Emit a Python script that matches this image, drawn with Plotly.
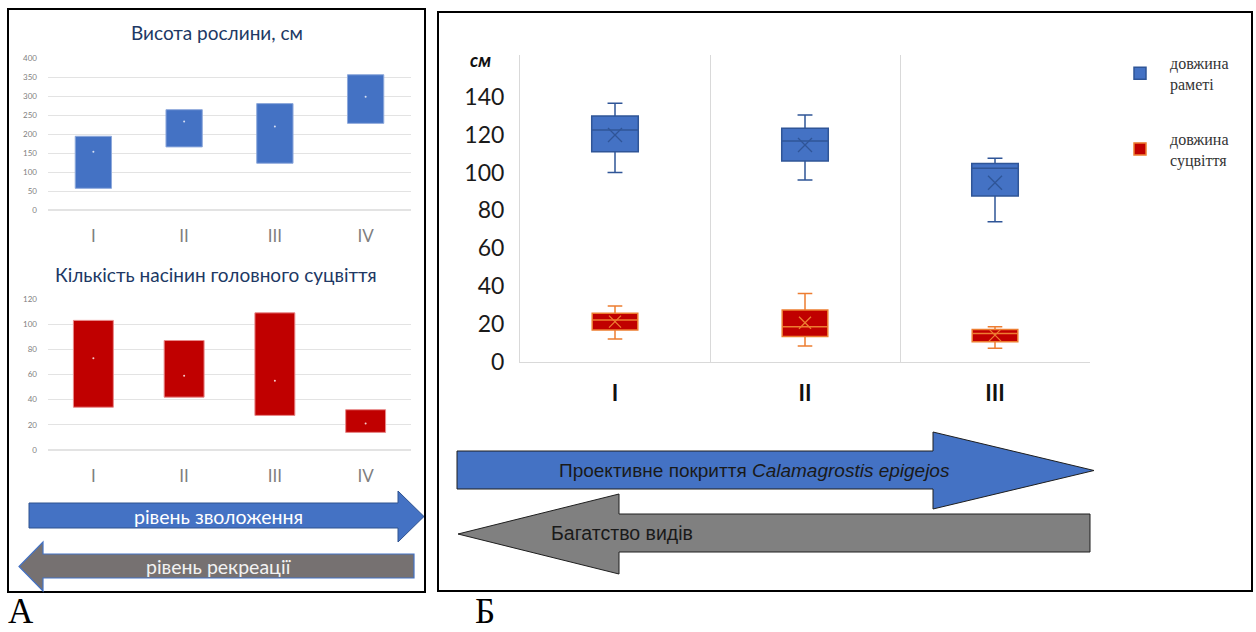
import plotly.graph_objects as go

W, H = 1256, 632

# ---------------- data ----------------
A_categories = ["I", "II", "III", "IV"]
height_low = [57, 166, 123, 228]
height_high = [194, 264, 280, 356]
height_mean = [153, 233, 220, 298]

seeds_low = [34, 42, 27.5, 14]
seeds_high = [103, 87, 109, 32]
seeds_mean = [73, 59, 55, 21]

B_groups = ["I", "II", "III"]
ramet_low = [100, 96, 74]
ramet_q1 = [111, 106, 87.6]
ramet_median = [122.4, 116.6, 102.2]
ramet_q3 = [129.8, 123.3, 104.8]
ramet_high = [136.5, 130.3, 107.5]
ramet_mean = [119.8, 114.5, 94.6]

infl_low = [12.1, 8.4, 7.2]
infl_q1 = [16.9, 13.4, 10.7]
infl_median = [22.2, 18.6, 15.0]
infl_q3 = [25.7, 27.4, 17.2]
infl_high = [29.6, 36.2, 18.6]
infl_mean = [21.3, 20.7, 14.2]

BLUE = "#4472C4"
RED = "#C00000"


def X(p):
    return p / W


def Y(p):
    return 1 - p / H


fig = go.Figure()

# ---------- Panel A, top: plant height ----------
fig.add_trace(go.Bar(
    x=A_categories, y=[h - l for h, l in zip(height_high, height_low)], base=height_low,
    width=0.4, marker=dict(color=BLUE, line=dict(color="#8EA9DB", width=1)),
    xaxis="x", yaxis="y", showlegend=False))
fig.add_trace(go.Scatter(
    x=A_categories, y=height_mean, mode="markers",
    marker=dict(size=2, color="#D9E1F2"), xaxis="x", yaxis="y", showlegend=False))

# ---------- Panel A, bottom: seeds ----------
fig.add_trace(go.Bar(
    x=A_categories, y=[h - l for h, l in zip(seeds_high, seeds_low)], base=seeds_low,
    width=0.44, marker=dict(color=RED, line=dict(color="#E88A8A", width=1)),
    xaxis="x2", yaxis="y2", showlegend=False))
fig.add_trace(go.Scatter(
    x=A_categories, y=seeds_mean, mode="markers",
    marker=dict(size=2, color="#F4CCCC"), xaxis="x2", yaxis="y2", showlegend=False))

# ---------- Panel B: box plots ----------
fig.add_trace(go.Box(
    x=B_groups, q1=ramet_q1, median=ramet_median, q3=ramet_q3,
    lowerfence=ramet_low, upperfence=ramet_high,
    width=0.245, whiskerwidth=0.32, fillcolor=BLUE,
    line=dict(color="#2F5597", width=1.5),
    name="довжина<br>раметі", legendgroup="a",
    xaxis="x3", yaxis="y3"))
fig.add_trace(go.Box(
    x=B_groups, q1=infl_q1, median=infl_median, q3=infl_q3,
    lowerfence=infl_low, upperfence=infl_high,
    width=0.24, whiskerwidth=0.32, fillcolor=RED,
    line=dict(color="#ED7D31", width=1.5),
    name="довжина<br>суцвіття", legendgroup="b",
    xaxis="x3", yaxis="y3"))
fig.add_trace(go.Scatter(
    x=B_groups, y=ramet_mean, mode="markers",
    marker=dict(symbol="x-thin", size=14, line=dict(color="#2F5597", width=1.3)),
    xaxis="x3", yaxis="y3", showlegend=False))
fig.add_trace(go.Scatter(
    x=B_groups, y=infl_mean, mode="markers",
    marker=dict(symbol="x-thin", size=12, line=dict(color="#ED7D31", width=1.3)),
    xaxis="x3", yaxis="y3", showlegend=False))

grid = "#E3E3E3"
tickA = dict(family="Lato, sans-serif", size=8, color="#7F7F7F")
catA = dict(family="Lato, sans-serif", size=17, color="#7F7F7F")

fig.update_layout(
    width=W, height=H, margin=dict(l=0, r=0, t=0, b=0, pad=0, autoexpand=False),
    paper_bgcolor="white", plot_bgcolor="white",
    boxmode="overlay", barmode="overlay",
    xaxis=dict(domain=[X(48), X(411)], range=[-0.5, 3.5], type="category",
               showgrid=False, ticks="", tickfont=catA, ticklabelstandoff=14,
               showline=False, anchor="y", automargin=False),
    yaxis=dict(domain=[Y(210), Y(58)], range=[0, 400], dtick=50,
               gridcolor=grid, gridwidth=1, zeroline=True, zerolinecolor=grid,
               tickfont=tickA, ticks="", ticklabelstandoff=10, anchor="x", automargin=False),
    xaxis2=dict(domain=[X(48), X(411)], range=[-0.5, 3.5], type="category",
                showgrid=False, ticks="", tickfont=catA, ticklabelstandoff=14,
                showline=False, anchor="y2", automargin=False),
    yaxis2=dict(domain=[Y(450), Y(299)], range=[0, 120], dtick=20,
                gridcolor=grid, gridwidth=1, zeroline=True, zerolinecolor=grid,
                tickfont=tickA, ticks="", ticklabelstandoff=10, anchor="x2", automargin=False),
    xaxis3=dict(domain=[X(520), X(1090)], range=[-0.5, 2.5], type="category",
                tickson="boundaries", showgrid=True, gridcolor="#D9D9D9",
                ticks="", showline=True, linecolor="#D9D9D9", mirror=False,
                tickfont=dict(family="Lato, sans-serif", size=22, color="#111111",
                              weight="bold"),
                ticklabelstandoff=12, anchor="y3", automargin=False),
    yaxis3=dict(domain=[Y(362), Y(55)], range=[0, 162], tickvals=[0, 20, 40, 60, 80, 100, 120, 140],
                showgrid=False, zeroline=False, showline=True, linecolor="#D9D9D9",
                ticks="", ticklabelstandoff=10,
                tickfont=dict(family="Lato, sans-serif", size=23, color="#1A1A1A"),
                anchor="x3", automargin=False),
    legend=dict(x=X(1110), y=Y(46), xanchor="left", yanchor="top",
                font=dict(family="Liberation Serif, serif", size=16, color="#333333"),
                tracegroupgap=31, bgcolor="rgba(0,0,0,0)", itemwidth=50),
)

# ---------- frames ----------
fig.add_shape(type="rect", xref="paper", yref="paper",
              x0=X(8), x1=X(425), y0=Y(592), y1=Y(9),
              line=dict(color="black", width=2), fillcolor="rgba(0,0,0,0)", layer="below")
fig.add_shape(type="rect", xref="paper", yref="paper",
              x0=X(438), x1=X(1252), y0=Y(591), y1=Y(12),
              line=dict(color="black", width=2), fillcolor="rgba(0,0,0,0)", layer="below")


def right_arrow(left, tip, bt, bb, ht, hb, base):
    mid = (ht + hb) / 2
    return (f"M{X(left)},{Y(bt)} L{X(base)},{Y(bt)} L{X(base)},{Y(ht)} "
            f"L{X(tip)},{Y(mid)} L{X(base)},{Y(hb)} L{X(base)},{Y(bb)} "
            f"L{X(left)},{Y(bb)} Z")


def left_arrow(right, tip, bt, bb, ht, hb, base):
    mid = (ht + hb) / 2
    return (f"M{X(right)},{Y(bt)} L{X(base)},{Y(bt)} L{X(base)},{Y(ht)} "
            f"L{X(tip)},{Y(mid)} L{X(base)},{Y(hb)} L{X(base)},{Y(bb)} "
            f"L{X(right)},{Y(bb)} Z")


# Panel A arrows
fig.add_shape(type="path", xref="paper", yref="paper",
              path=right_arrow(29, 424, 503, 528, 491, 542, 398),
              fillcolor=BLUE, line=dict(color="#2F528F", width=1))
fig.add_shape(type="path", xref="paper", yref="paper",
              path=left_arrow(414, 19, 554, 578, 542, 591, 43),
              fillcolor="#767171", line=dict(color="#4472C4", width=1.2))
# Panel B arrows
fig.add_shape(type="path", xref="paper", yref="paper",
              path=right_arrow(457, 1094, 451, 489, 432, 509, 933),
              fillcolor=BLUE, line=dict(color="#1F1F1F", width=1))
fig.add_shape(type="path", xref="paper", yref="paper",
              path=left_arrow(1090, 458, 514, 552, 494, 574, 619),
              fillcolor="#808080", line=dict(color="#1F1F1F", width=1))

ann = []
ann.append(dict(x=X(217), y=Y(32), text="Висота рослини, см",
                font=dict(family="Lato, sans-serif", size=19, color="#203864")))
ann.append(dict(x=X(216), y=Y(274), text="Кількість насінин головного суцвіття",
                font=dict(family="Lato, sans-serif", size=19, color="#203864")))
ann.append(dict(x=X(218), y=Y(516), text="рівень зволоження",
                font=dict(family="Lato, sans-serif", size=19.5, color="white")))
ann.append(dict(x=X(219), y=Y(566), text="рівень рекреації",
                font=dict(family="Lato, sans-serif", size=19.5, color="#F2F2F2")))
ann.append(dict(x=X(754), y=Y(470), text="Проективне покриття <i>Calamagrostis epigejos</i>",
                font=dict(family="Liberation Sans, Arial, sans-serif", size=19, color="#1A1A1A")))
ann.append(dict(x=X(549), y=Y(533), text="Багатство видів", xanchor="left",
                font=dict(family="Liberation Sans, Arial, sans-serif", size=19.5, color="#1A1A1A")))
ann.append(dict(x=X(480), y=Y(60), text="<b><i>см</i></b>",
                font=dict(family="Lato, sans-serif", size=18, color="#111111")))
ann.append(dict(x=X(7), y=0, text="А", xanchor="left", yanchor="bottom", borderpad=0,
                font=dict(family="Liberation Serif, serif", size=35, color="black")))
ann.append(dict(x=X(474), y=0, text="Б", xanchor="left", yanchor="bottom", borderpad=0,
                font=dict(family="Liberation Serif, serif", size=35, color="black")))
for a in ann:
    a.update(xref="paper", yref="paper", showarrow=False)
    a.setdefault("xanchor", "center")
    a.setdefault("yanchor", "middle")
fig.update_layout(annotations=ann)

fig.write_html("out.html", config={"displayModeBar": False},
               post_script="document.body.style.margin='0';document.body.style.padding='0';")
